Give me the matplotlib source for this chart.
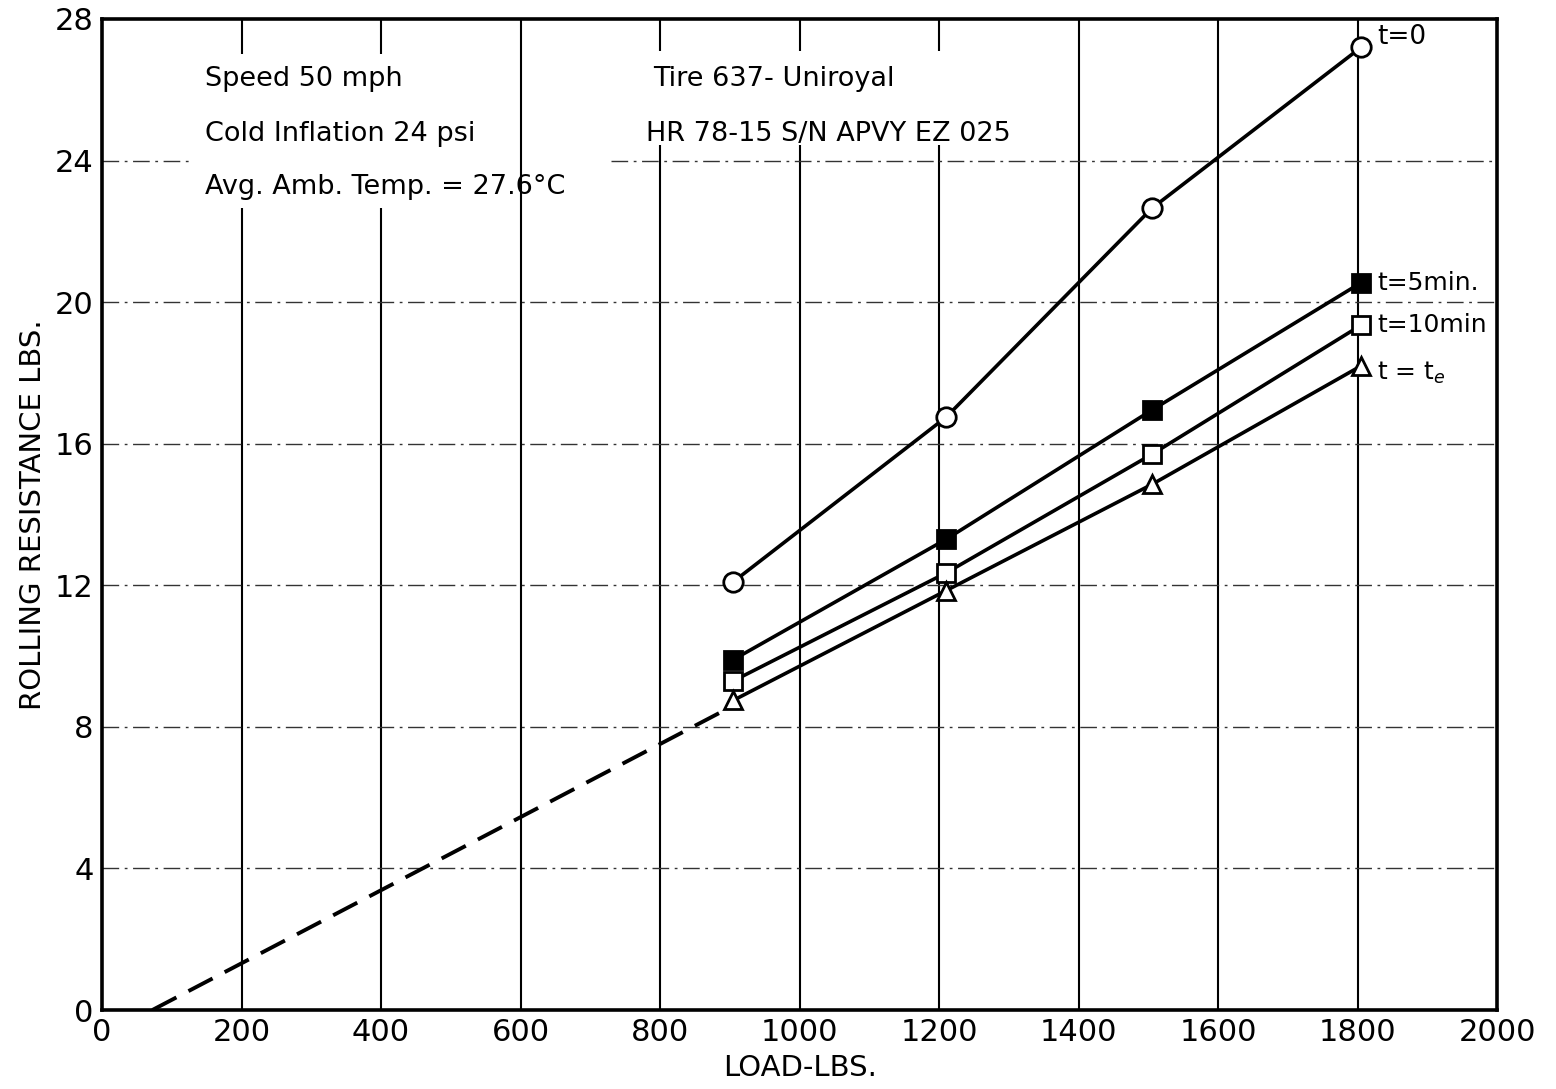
import matplotlib
matplotlib.use("Agg")
import matplotlib.pyplot as plt
from matplotlib.patches import Rectangle

plt.rcParams['font.family'] = ['DejaVu Sans']

load = [905, 1210, 1505, 1805]
rr_t0 = [12.1, 16.75, 22.65, 27.2]
rr_t5 = [9.9, 13.3, 16.95, 20.55]
rr_t10 = [9.3, 12.35, 15.7, 19.35]
rr_te = [8.75, 11.85, 14.85, 18.2]
extrap_x = [72, 905]
extrap_y = [0, 8.6]

xticks = [0, 200, 400, 600, 800, 1000, 1200, 1400, 1600, 1800, 2000]
yticks = [0, 4, 8, 12, 16, 20, 24, 28]

fig = plt.figure(figsize=(15.56, 10.89), dpi=100)
ax = fig.add_axes([0.0656, 0.0725, 0.8966, 0.9101])
ax.set_xlim(0, 2000)
ax.set_ylim(0, 28)

for x in xticks[1:-1]:
    ax.axvline(x, color='black', lw=1.5, zorder=1)
dashdot = (0, (12, 4, 2, 4))
for y in yticks[1:-1]:
    if y == 24:
        ax.hlines(y, 0, 130, color='#333333', lw=1.0, linestyles=[dashdot], zorder=1)
        ax.hlines(y, 730, 2000, color='#333333', lw=1.0, linestyles=[dashdot], zorder=1)
    else:
        ax.axhline(y, color='#333333', lw=1.0, ls=dashdot, zorder=1)

# white panels behind the note blocks (gaps in the grid)
ax.add_patch(Rectangle((135, 22.65), 450, 4.35, facecolor='white', edgecolor='none', zorder=1.5))
ax.add_patch(Rectangle((770, 24.45), 620, 2.65, facecolor='white', edgecolor='none', zorder=1.5))

ax.plot(extrap_x, extrap_y, color='black', lw=2.8, ls=(0, (7, 3.5)), zorder=2)

lw = 2.6
ax.plot(load, rr_t0, color='black', lw=lw, marker='o', ms=14, mfc='white', mec='black', mew=2.0, zorder=3)
ax.plot(load, rr_t5, color='black', lw=lw, marker='s', ms=12.5, mfc='black', mec='black', mew=2.0, zorder=3)
ax.plot(load, rr_t10, color='black', lw=lw, marker='s', ms=12.5, mfc='white', mec='black', mew=2.0, zorder=3)
ax.plot(load, rr_te, color='black', lw=lw, marker='^', ms=13, mfc='white', mec='black', mew=2.0, zorder=3)

fs_lab = 18
ax.text(1828, rr_t0[-1] + 0.3, "t=0", fontsize=fs_lab + 1, va='center', ha='left')
ax.text(1828, rr_t5[-1], "t=5min.", fontsize=fs_lab, va='center', ha='left')
ax.text(1828, rr_t10[-1], "t=10min", fontsize=fs_lab, va='center', ha='left')
ax.text(1828, rr_te[-1] - 0.2, "t = t$_e$", fontsize=fs_lab, va='center', ha='left')

fs_txt = 19.5
ax.text(148, 26.3, "Speed 50 mph", fontsize=fs_txt, va='center', ha='left', zorder=4)
ax.text(148, 24.75, "Cold Inflation 24 psi", fontsize=fs_txt, va='center', ha='left', zorder=4)
ax.text(148, 23.25, "Avg. Amb. Temp. = 27.6°C", fontsize=fs_txt, va='center', ha='left', zorder=4)
ax.text(790, 26.3, "Tire 637- Uniroyal", fontsize=fs_txt, va='center', ha='left', zorder=4)
ax.text(780, 24.75, "HR 78-15 S/N APVY EZ 025", fontsize=fs_txt, va='center', ha='left', zorder=4)

ax.set_xticks(xticks)
ax.set_yticks(yticks)
ax.set_xticklabels([str(v) for v in xticks], fontsize=22)
ax.set_yticklabels([str(v) for v in yticks], fontsize=22)
ax.tick_params(length=0, pad=6)
for s in ax.spines.values():
    s.set_linewidth(2.6)

ax.set_xlabel("LOAD-LBS.", fontsize=21, labelpad=5)
ax.set_ylabel("ROLLING RESISTANCE LBS.", fontsize=21, labelpad=6)

fig.savefig("out.png", dpi=100)
